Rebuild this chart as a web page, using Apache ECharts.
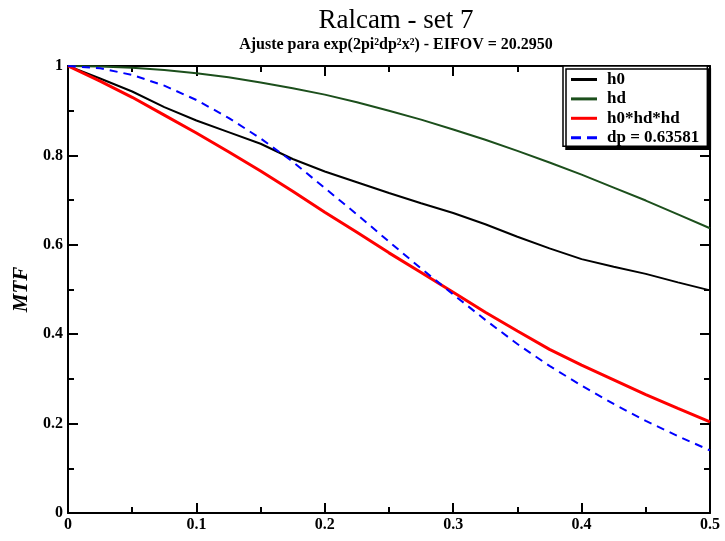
<!DOCTYPE html>
<html>
<head>
<meta charset="utf-8">
<script src="https://cdn.jsdelivr.net/npm/echarts@6/dist/echarts.min.js"></script>
<style>
  html, body { margin: 0; padding: 0; background: #fff; }
  #chart { width: 725px; height: 541px; }
</style>
</head>
<body>
<div id="chart"></div>
<script>
const xs = [0, 0.025, 0.05, 0.075, 0.1, 0.125, 0.15, 0.175, 0.2, 0.225, 0.25,
  0.275, 0.3, 0.325, 0.35, 0.375, 0.4, 0.425, 0.45, 0.475, 0.5]

const h0 = [1.0, 0.972, 0.943, 0.908, 0.878, 0.852, 0.826, 0.792, 0.764, 0.740, 0.716,
  0.693, 0.671, 0.646, 0.618, 0.592, 0.568, 0.551, 0.535, 0.516, 0.498]

const hd = [1.0, 0.999, 0.996, 0.991, 0.984, 0.975, 0.963, 0.950, 0.936, 0.919, 0.900,
  0.880, 0.858, 0.835, 0.810, 0.784, 0.757, 0.728, 0.699, 0.668, 0.637]

const h0hdhd = [1.0, 0.966, 0.930, 0.890, 0.850, 0.808, 0.765, 0.720, 0.673, 0.628, 0.582,
  0.538, 0.494, 0.449, 0.407, 0.366, 0.331, 0.298, 0.265, 0.234, 0.204]

const dp = [1.0, 0.995, 0.980, 0.956, 0.924, 0.884, 0.838, 0.786, 0.727, 0.668, 0.607,
  0.547, 0.489, 0.432, 0.378, 0.329, 0.285, 0.244, 0.206, 0.172, 0.140]

const names = ['h0', 'hd', 'h0*hd*hd', 'dp = 0.63581']

const serif = 'Liberation Serif'
const pairs = arr => xs.map((x, i) => [x, arr[i]])

// legend samples: a solid bar, or two dashes for the fitted gaussian
const solidIcon = 'path://M0,0H26V2H0Z'
const dashIcon = 'path://M0,0H10V2H0Z M16,0H26V2H16Z'

const chart = echarts.init(document.getElementById('chart'))

// shared look for the four frame axes
const frame = {
  axisLine: { show: true, onZero: false, lineStyle: { color: '#000', width: 2 } },
  axisTick: { show: true, inside: true, length: 10, lineStyle: { color: '#000', width: 2 } },
  minorTick: { show: true, splitNumber: 2, length: 6, lineStyle: { color: '#000', width: 2 } },
  splitLine: { show: false }
}
const tickFont = { fontFamily: serif, fontSize: 16, fontWeight: 'bold', color: '#000' }

const option = {
  animation: false,
  backgroundColor: '#fff',
  title: {
    text: 'Ralcam - set 7',
    subtext: 'Ajuste para exp(2pi²dp²x²) - EIFOV = 20.2950',
    left: 391,
    top: 2,
    textAlign: 'center',
    itemGap: 3,
    textStyle: { fontFamily: serif, fontSize: 27, fontWeight: 'normal', color: '#000' },
    subtextStyle: { fontFamily: serif, fontSize: 16, fontWeight: 'bold', color: '#000' }
  },
  grid: { left: 68, right: 15, top: 66, bottom: 28 },
  legend: {
    orient: 'vertical',
    left: 563,
    top: 66,
    itemWidth: 26,
    itemHeight: 3,
    itemGap: 2.4,
    symbolKeepAspect: false,
    padding: [5, 8, 0, 8],
    backgroundColor: '#fff',
    borderColor: '#000',
    borderWidth: 1.5,
    borderRadius: 0,
    shadowColor: '#000',
    shadowOffsetX: 3,
    shadowOffsetY: 3,
    shadowBlur: 0,
    textStyle: { fontFamily: serif, fontSize: 17, fontWeight: 'bold', color: '#000', padding: [0, 0, 0, 5] },
    data: [
      { name: names[0], icon: solidIcon },
      { name: names[1], icon: solidIcon },
      { name: names[2], icon: 'path://M0,0H26V3H0Z' },
      { name: names[3], icon: dashIcon }
    ]
  },
  xAxis: [
    Object.assign({
      type: 'value', min: 0, max: 0.5, interval: 0.1, position: 'bottom',
      axisLabel: Object.assign({ margin: 4 }, tickFont)
    }, frame),
    Object.assign({
      type: 'value', min: 0, max: 0.5, interval: 0.1, position: 'top',
      axisLabel: { show: false }
    }, frame)
  ],
  yAxis: [
    Object.assign({
      type: 'value', min: 0, max: 1, interval: 0.2, position: 'left',
      name: 'MTF',
      nameLocation: 'middle',
      nameGap: 30,
      nameTextStyle: { fontFamily: serif, fontSize: 21, fontWeight: 'bold', fontStyle: 'italic', color: '#000' },
      axisLabel: Object.assign({ margin: 5 }, tickFont)
    }, frame),
    Object.assign({
      type: 'value', min: 0, max: 1, interval: 0.2, position: 'right',
      axisLabel: { show: false }
    }, frame)
  ],
  series: [
    {
      name: names[0], type: 'line', symbol: 'none', z: 3,
      lineStyle: { color: '#000', width: 2 }, itemStyle: { color: '#000' },
      data: pairs(h0)
    },
    {
      name: names[1], type: 'line', symbol: 'none', z: 3,
      lineStyle: { color: '#1c4f1c', width: 2 }, itemStyle: { color: '#1c4f1c' },
      data: pairs(hd)
    },
    {
      name: names[2], type: 'line', symbol: 'none', z: 4,
      lineStyle: { color: '#ff0000', width: 3 }, itemStyle: { color: '#ff0000' },
      data: pairs(h0hdhd)
    },
    {
      name: names[3], type: 'line', symbol: 'none', z: 5,
      lineStyle: { color: '#0000ff', width: 2, type: [8, 6] }, itemStyle: { color: '#0000ff' },
      data: pairs(dp)
    }
  ]
}

chart.setOption(option)
</script>
</body>
</html>
